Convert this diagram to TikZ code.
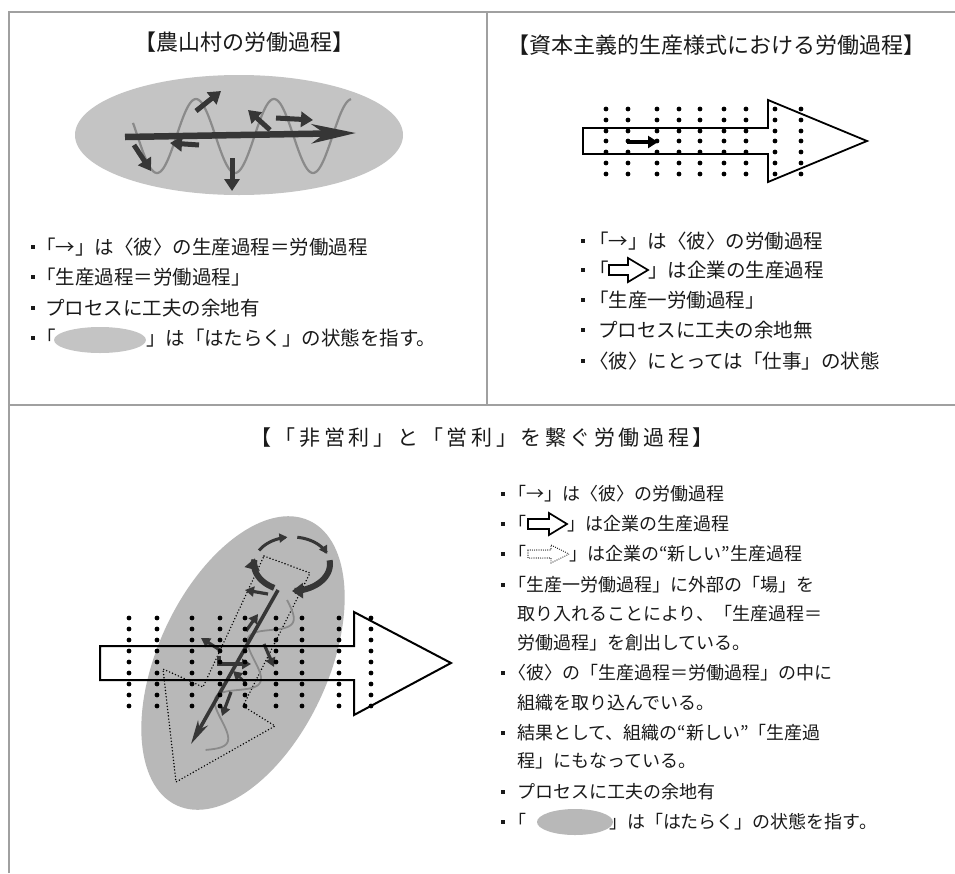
\documentclass[tikz,border=0pt]{standalone}
\usepackage{fontspec}
\setmainfont{Noto Sans CJK JP}
\newfontfamily\ttlspaced[LetterSpace=17]{Noto Sans CJK JP}
\newcommand{\fwarrow}{{\addfontfeatures{RawFeature=+fwid}→}}
\usetikzlibrary{arrows.meta}
\definecolor{txtc}{HTML}{1A1A1A}
\definecolor{ellA}{HTML}{C4C4C4}
\definecolor{ellB}{HTML}{B8B8B8}
\definecolor{darkc}{HTML}{363636}
\definecolor{wavec}{HTML}{8A8A8A}
\definecolor{framec}{HTML}{A0A0A0}
\tikzset{
  frameline/.style={draw=framec, line width=1.4pt},
  bigtitle/.style={inner sep=0pt, text=txtc, font=\fontsize{22}{22}\selectfont},
  toptxt/.style={anchor=west, inner sep=0pt, text=txtc, font=\fontsize{19.5}{20}\selectfont, text height=17.2pt, text depth=2.3pt},
  bottxt/.style={anchor=west, inner sep=0pt, text=txtc, font=\fontsize{18}{18}\selectfont, text height=15.8pt, text depth=2.2pt},
  bsq/.style={fill=txtc, inner sep=0pt, minimum size=4.5pt},
  darrow/.style={draw=darkc, line width=5pt, -{Triangle[length=12pt,width=15pt]}},
  sarrow/.style={draw=darkc, line width=3.2pt, -{Triangle[length=9pt,width=10pt]}},
  outarrow/.style={draw=black, line width=1.8pt, line join=miter},
  dotline/.style={draw=black, line width=1.6pt, dash pattern=on 0pt off 3.2pt, line cap=round},
}
\begin{document}
\begin{tikzpicture}[x=1pt,y=-1pt]
\useasboundingbox (0,0) rectangle (955,873);
\fill[white] (0,0) rectangle (955,873);
% frame
\draw[frameline] (9,873) -- (9,12) -- (955,12);
\draw[frameline] (487,12) -- (487,405);
\draw[frameline] (9,405) -- (955,405);

% ================= top-left panel
\node[bigtitle] (tlT) at (244,42) {【農山村の労働過程】};
\fill[ellA] (239,135) ellipse [x radius=164, y radius=60];
\draw[wavec, line width=2.2pt] plot[domain=133:351, samples=150, variable=\x] (\x,{136+37*sin(4.6154*(\x-137.5))});
\draw[darkc, line width=6.5pt, -{Stealth[length=44pt,width=19pt,inset=13pt]}] (125,137) -- (356,133);
\draw[darrow] (134,145) -- (151,171);
\draw[darrow] (199,145) -- (170,143);
\draw[darrow] (196,111) -- (221,91);
\draw[darrow] (232,158) -- (232,191);
\draw[darrow] (270,130) -- (248,110);
\draw[darrow] (276,118) -- (313,120);

\node[bsq] (tlb1) at (33,247) {};
\node[bsq] (tlb2) at (33,277) {};
\node[bsq] (tlb3) at (33,308) {};
\node[bsq] (tlb4) at (33,338) {};
\node[toptxt] (tl1) at (36,247) {「\fwarrow」は〈彼〉の生産過程＝労働過程};
\node[toptxt] (tl2) at (36,277) {「生産過程＝労働過程」};
\node[toptxt] (tl3) at (45,308) {プロセスに工夫の余地有};
\node[toptxt] (tl4a) at (36,338) {「};
\fill[ellA] (100,340) ellipse [x radius=46, y radius=13];
\node[toptxt] (tl4b) at (146,338) {」は「はたらく」の状態を指す。};

% ================= top-right panel
\node[bigtitle] (trT) at (716,45) {【資本主義的生産様式における労働過程】};
\draw[outarrow] (583,128) -- (768,128) -- (768,100) -- (867,141) -- (768,182) -- (768,154) -- (583,154) -- cycle;
\foreach \x in {606,628,657,679,700,724,746,775,801}
  \foreach \y in {109,120,131,141,152,163,174}
    \fill[black] (\x,\y) circle[radius=2.4pt];
\draw[black, line width=3.2pt, -{Triangle[length=10pt,width=12pt]}] (627,142) -- (658,142);

\node[bsq] (trb1) at (583,241) {};
\node[bsq] (trb2) at (583,270) {};
\node[bsq] (trb3) at (583,300) {};
\node[bsq] (trb4) at (583,330) {};
\node[bsq] (trb5) at (583,361) {};
\node[toptxt] (tr1) at (589,241) {「\fwarrow」は〈彼〉の労働過程};
\node[toptxt] (tr2a) at (589,270) {「};
\draw[outarrow, line width=1.7pt] (609,265) -- (628,265) -- (628,258) -- (648,270) -- (628,282) -- (628,275) -- (609,275) -- cycle;
\node[toptxt] (tr2b) at (648,270) {」は企業の生産過程};
\node[toptxt] (tr3) at (589,300) {「生産一労働過程」};
\node[toptxt] (tr4) at (598,330) {プロセスに工夫の余地無};
\node[toptxt] (tr5) at (589,361) {〈彼〉にとっては「仕事」の状態};

% ================= bottom panel
\node[bigtitle, font=\ttlspaced\fontsize{21}{21}\selectfont] (bT) at (482,438) {【「非営利」と「営利」を繋ぐ労働過程】};

\fill[ellB, rotate around={65:(243,663)}] (243,663) ellipse [x radius=157, y radius=85];
% dotted new production arrow
\draw[dotline] (264,556) -- (310,573) -- (243,706) -- (275,726) -- (176,782) -- (163,669) -- (203,687) -- cycle;
% wave along the axis
\draw[wavec, line width=1.8pt] plot[domain=0:1, samples=150, variable=\t] ({287-82*\t+16*0.877*sin(900*\t)},{600+150*\t+16*0.48*sin(900*\t)});
% circle arrows
\draw[darkc, line width=3pt, -{Triangle[length=8pt,width=9pt]}] plot[domain=150:97, samples=20, variable=\t] ({292+38*cos(\t)},{564-27*sin(\t)});
\draw[darkc, line width=3pt, -{Triangle[length=8pt,width=9pt]}] plot[domain=82:22, samples=20, variable=\t] ({292+38*cos(\t)},{564-27*sin(\t)});
\draw[darkc, line width=6pt, -{Triangle[length=11pt,width=15pt]}] plot[domain=8:-90, samples=25, variable=\t] ({292+38*cos(\t)},{564-27*sin(\t)});
\draw[darkc, line width=6pt, -{Triangle[length=11pt,width=15pt]}] plot[domain=-118:-192, samples=25, variable=\t] ({292+38*cos(\t)},{564-27*sin(\t)});
% long arrow
\draw[darkc, line width=3.6pt, -{Stealth[length=24pt,width=11pt,inset=7pt]}] (278,590) -- (191,744);
% small arrows
\draw[sarrow] (268,594) -- (245,590);
\draw[sarrow] (246,631) -- (258,614);
\draw[sarrow] (220,650) -- (201,638);
\draw[sarrow] (264,644) -- (274,667);
\draw[sarrow, line width=4pt] (219,656) -- (219,664) -- (251,664);
\draw[sarrow] (231,692) -- (222,716);
\draw[sarrow, line width=2.4pt] (246,683) -- (233,671);
% big outline arrow
\draw[outarrow, line width=2pt] (100,646) -- (354,646) -- (354,612) -- (451,663) -- (354,715) -- (354,680) -- (100,680) -- cycle;
\foreach \x in {129,157,192,220,245,276,302,339,371}
  \foreach \y in {618,629,640,651,662,673,684,695,706}
    \fill[black] (\x,\y) circle[radius=2.4pt];

% bottom text
\node[bsq] (bb1) at (503,494) {};
\node[bsq] (bb2) at (503,524) {};
\node[bsq] (bb3) at (503,554) {};
\node[bsq] (bb4) at (503,585) {};
\node[bsq] (bb5) at (503,673) {};
\node[bsq] (bb6) at (503,733) {};
\node[bsq] (bb7) at (503,792) {};
\node[bsq] (bb8) at (503,822) {};
\node[bottxt] (b1) at (508,494) {「\fwarrow」は〈彼〉の労働過程};
\node[bottxt] (b2a) at (508,524) {「};
\draw[outarrow, line width=1.7pt] (528,519) -- (549,519) -- (549,513) -- (567,524) -- (549,535) -- (549,529) -- (528,529) -- cycle;
\node[bottxt] (b2b) at (567,524) {」は企業の生産過程};
\node[bottxt] (b3a) at (508,554) {「};
\draw[black, line width=1.2pt, dash pattern=on 0pt off 2.2pt, line cap=round] (528,550) -- (551,550) -- (551,545) -- (569,554) -- (551,563) -- (551,558) -- (528,558) -- cycle;
\node[bottxt] (b3b) at (569,554) {」は企業の“新しい”生産過程};
\node[bottxt] (b4) at (508,585) {「生産一労働過程」に外部の「場」を};
\node[bottxt] (b4b) at (517,614) {取り入れることにより、「生産過程＝};
\node[bottxt] (b4c) at (517,643) {労働過程」を創出している。};
\node[bottxt] (b5) at (508,673) {〈彼〉の「生産過程＝労働過程」の中に};
\node[bottxt] (b5b) at (517,703) {組織を取り込んでいる。};
\node[bottxt] (b6) at (517,733) {結果として、組織の“新しい”「生産過};
\node[bottxt] (b6b) at (517,761) {程」にもなっている。};
\node[bottxt] (b7) at (517,792) {プロセスに工夫の余地有};
\node[bottxt] (b8a) at (508,822) {「};
\fill[ellB] (575,822) ellipse [x radius=38, y radius=13];
\node[bottxt] (b8b) at (609,822) {」は「はたらく」の状態を指す。};
\end{tikzpicture}
\end{document}
